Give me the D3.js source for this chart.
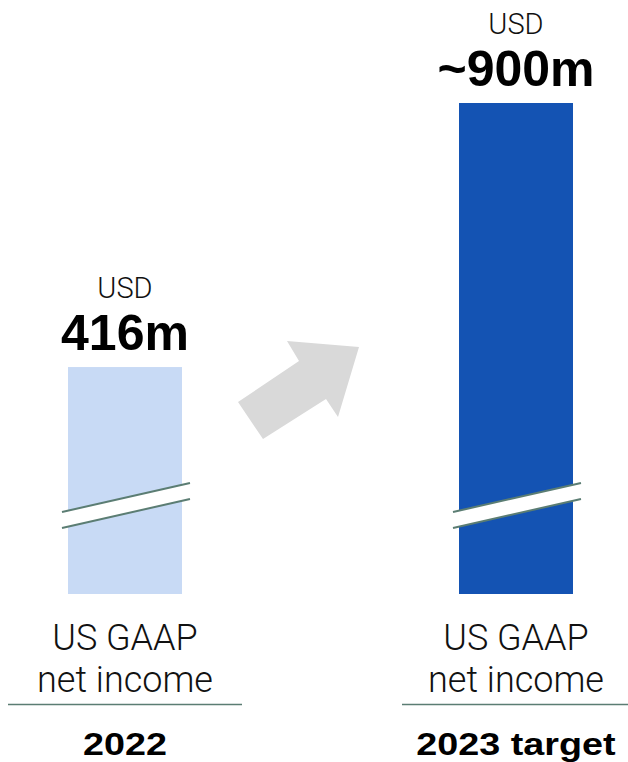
<!DOCTYPE html>
<html>
<head>
<meta charset="utf-8">
<script src="https://cdn.jsdelivr.net/npm/d3@7"></script>
<style>
  html, body { margin: 0; padding: 0; background: #fff; }
  svg { display: block; }
</style>
</head>
<body>
<svg id="chart" width="628" height="762"></svg>
<script>
// data
var categories = ['2022', '2023 target'];
var values = [416, 900];
var valueLabels = ['416m', '~900m'];
var unitLabels = ['USD', 'USD'];
var metricLines = ['US GAAP', 'net income'];
var barColors = ['#c8daf5', '#1453b3'];

var svg = d3.select('#chart');

var x = d3.scalePoint().domain(categories).range([125, 516]);
var y = d3.scaleLinear().domain([0, 900]).range([594, 103]);
var barW = 114;

var color = d3.scaleOrdinal().domain(categories).range(barColors);

var bars = svg.selectAll('.bar').data(categories).enter().append('g').attr('class', 'bar');

bars.append('rect')
  .attr('x', function(d){ return x(d) - barW/2; })
  .attr('y', function(d, i){ return y(values[i]); })
  .attr('width', barW)
  .attr('height', function(d, i){ return y(0) - y(values[i]); })
  .attr('fill', color);

// axis break (the white slanted band)
var brk = function(cx){
  return {x0: cx - 63, x1: cx + 65, yl: y(0) - 82, yr: y(0) - 111, g: 16};
};
bars.each(function(d){
  var b = brk(x(d)), sel = d3.select(this);
  sel.append('path')
    .attr('d', 'M' + b.x0 + ',' + b.yl + 'L' + b.x1 + ',' + b.yr + 'L' + b.x1 + ',' + (b.yr + b.g) + 'L' + b.x0 + ',' + (b.yl + b.g) + 'Z')
    .attr('fill', '#fff');
  [0, b.g].forEach(function(o){
    sel.append('line')
      .attr('x1', b.x0).attr('y1', b.yl + o)
      .attr('x2', b.x1).attr('y2', b.yr + o)
      .attr('stroke', '#5b7d73').attr('stroke-width', 2);
  });
});

// value labels
bars.append('text')
  .attr('x', function(d){ return x(d); })
  .attr('y', function(d, i){ return y(values[i]) - 69; })
  .attr('text-anchor', 'middle')
  .style('font-family', 'Roboto, sans-serif').style('font-weight', 300).style('font-size', '29px')
  .attr('fill', '#111')
  .text(function(d, i){ return unitLabels[i]; });

bars.append('text')
  .attr('x', function(d){ return x(d); })
  .attr('y', function(d, i){ return y(values[i]) - 17; })
  .attr('text-anchor', 'middle')
  .style('font-family', '"Liberation Sans", Arial, sans-serif').style('font-weight', 700).style('font-size', '50px')
  .attr('fill', '#000')
  .text(function(d, i){ return valueLabels[i]; });

// metric name under bars
metricLines.forEach(function(line, k){
  bars.append('text')
    .attr('x', function(d){ return x(d); })
    .attr('y', 650 + k*42)
    .attr('text-anchor', 'middle')
    .style('font-family', 'Roboto, sans-serif').style('font-weight', 300).style('font-size', '36px')
    .attr('fill', '#111')
    .text(line);
});

// separators
var sepExtent = [[8, 242], [402, 628]];
bars.append('line')
  .attr('x1', function(d, i){ return sepExtent[i][0]; })
  .attr('x2', function(d, i){ return sepExtent[i][1]; })
  .attr('y1', 704.5).attr('y2', 704.5)
  .attr('stroke', '#5b7d73').attr('stroke-width', 1.5);

// category labels (wide bold face)
bars.append('text')
  .attr('transform', function(d){ return 'translate(' + x(d) + ',755) scale(1.18,1)'; })
  .attr('text-anchor', 'middle')
  .style('font-family', '"Liberation Sans", Arial, sans-serif').style('font-weight', 700).style('font-size', '32px')
  .attr('fill', '#000')
  .text(function(d){ return d; });

// growth arrow
var arrow = [[238,402],[263,439],[326,399],[338,417],[359,347],[287,341],[299,361]];
svg.append('path')
  .attr('d', d3.line()(arrow) + 'Z')
  .attr('fill', '#d9d9d9');
</script>
</body>
</html>
